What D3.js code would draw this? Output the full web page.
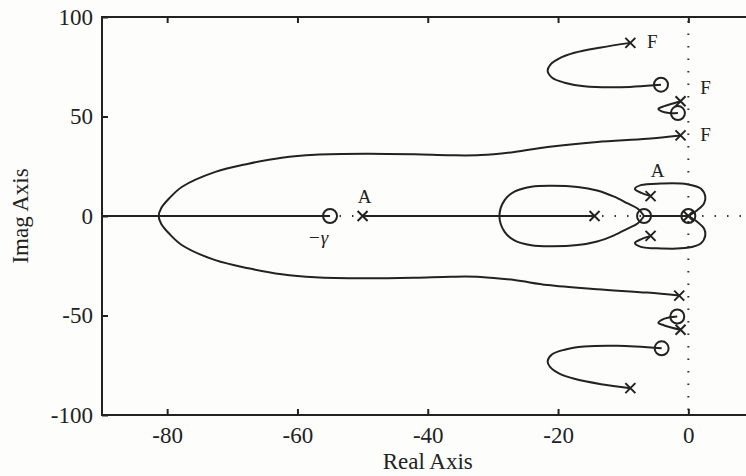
<!DOCTYPE html>
<html lang="en">
<head>
    <title>Root Locus</title>
    <script src="https://d3js.org/d3.v7.min.js"></script>
    <style>
        body {
            margin: 0;
            background: #fdfdfb;
        }

        svg text {
            font-family: "Liberation Serif", "Times New Roman", serif;
            fill: #222;
        }

        .locus {
            fill: none;
            stroke: #222;
            stroke-width: 2;
        }

        .marker {
            fill: none;
            stroke: #222;
            stroke-width: 2;
        }

        .dotted {
            stroke: #333;
            stroke-width: 2;
            stroke-dasharray: 1.5, 11;
        }
    </style>
</head>
<body>
<div id="chart"></div>

<script>
    // axis ticks
    var xTicks = [-80, -60, -40, -20, 0];
    var yTicks = [-100, -50, 0, 50, 100];

    // open-loop poles and zeros [real, imag]
    var poles = [[-50, 0], [-14.4, 0], [-5.8, 10], [-5.8, -10], [0, 0],
                 [-8.9, 87], [-1.2, 57.7], [-1.2, 40.5],
                 [-8.9, -86.5], [-1.2, -57.2], [-1.4, -40]];
    var zeros = [[-55, 0], [-6.8, 0], [0, 0],
                 [-4.2, 66], [-1.6, 51.7],
                 [-4.1, -66.5], [-1.7, -50.5]];

    // branches on the real axis
    var realSegments = [
        [[-90, 0], [-55, 0]],
        [[-50, 0], [-14.4, 0]],
        [[-6.8, 0], [0, 0]]
    ];

    // big loop: pole near +40j, breakaway at -81, pole near -40j
    var outerLoop = [[-1.2, 40.5], [-6.3, 38.8], [-14, 37.2], [-21.6, 34.7], [-26.7, 32.2],
        [-31.9, 30.6], [-36.4, 30.5], [-42, 31], [-49.6, 31.3], [-57.3, 30.8], [-62.4, 29.3],
        [-67.5, 26.3], [-72.6, 22.2], [-77.7, 14.7], [-79.7, 8.8], [-80.9, 4], [-81.3, 0],
        [-80.9, -4], [-79.7, -8.8], [-77.7, -14.7], [-72.6, -22.2], [-67.5, -26.3], [-62.4, -29.3],
        [-57.3, -30.8], [-49.6, -31.3], [-42, -31], [-36.4, -30.5], [-31.9, -30.6],
        [-26.7, -32.2], [-21.6, -34.7], [-14, -36.8], [-6.3, -38.5], [-1.4, -40]];

    // inner loop: breakaway at -29 back into the zero at -6.8
    var innerLoop = [[-6.8, 0], [-7.8, 3.8], [-9.3, 6.3], [-11.4, 9.7], [-14, 12.8],
        [-17, 14.6], [-21, 15.2], [-24.1, 14.7], [-26.7, 12.2], [-28.2, 8], [-29, 0],
        [-28.2, -8], [-26.7, -12.2], [-24.1, -14.7], [-21, -15.2], [-17, -14.6],
        [-14, -12.8], [-11.4, -9.7], [-9.3, -6.3], [-7.8, -3.8], [-6.8, 0]];

    // lobes from the poles at -5.8 +/- 10j into the origin
    var lobeUpper = [[-5.8, 10], [-7.2, 11.6], [-8.2, 13.6], [-7.3, 15.5], [-4.2, 16.3],
        [-0.2, 16], [1.9, 13.8], [2.6, 9.7], [2.4, 6.3], [1.4, 3], [0, 0]];
    var lobeLower = [[-5.8, -10], [-7.2, -11.6], [-8.2, -13.6], [-7.3, -15.5], [-4.2, -16.3],
        [-0.2, -16], [1.9, -13.8], [2.6, -9.7], [2.4, -6.3], [1.4, -3], [0, 0]];

    // flexible mode loops
    var topLoop = [[-8.9, 87], [-13.4, 84.7], [-17.5, 82], [-19.8, 79.2], [-21.2, 76],
        [-21.6, 73], [-20.9, 69.5], [-19, 67], [-16, 65.2], [-10.9, 64.7], [-4.2, 66]];
    var bottomLoop = [[-8.9, -86.5], [-13.4, -84.5], [-17.5, -81.8], [-19.8, -79.2],
        [-21.2, -76], [-21.6, -73], [-20.9, -69.5], [-19, -67.2], [-16, -65.6],
        [-10.9, -65.2], [-4.1, -66.5]];
    var smallLoopUpper = [[-1.2, 57.7], [-2.5, 56.4], [-3.7, 55.2], [-4.6, 53.8],
        [-4.1, 52.6], [-3, 51.8], [-1.6, 51.7]];
    var smallLoopLower = [[-1.2, -57.2], [-2.5, -56.2], [-3.7, -55], [-4.6, -53.7],
        [-4.1, -52.2], [-3, -51], [-1.7, -50.5]];

    var w = 746;
    var h = 476;
    var plotLeft = 102, plotTop = 17, plotRight = 753.5, plotBottom = 415;

    var svg = d3.select("#chart")
        .append("svg")
        .attr("width", w)
        .attr("height", h);

    var xScale = d3.scaleLinear().domain([-90, 10]).range([plotLeft, plotRight]);
    var yScale = d3.scaleLinear().domain([-100, 100]).range([plotBottom, plotTop]);

    var plot = svg.append("g");

    // dotted real and imaginary axes
    plot.append("line")
        .attr("class", "dotted")
        .attr("x1", xScale(0)).attr("x2", xScale(0))
        .attr("y1", plotTop + 4).attr("y2", plotBottom);
    plot.append("line")
        .attr("class", "dotted")
        .attr("x1", plotLeft).attr("x2", plotRight)
        .attr("y1", yScale(0)).attr("y2", yScale(0));

    var straight = d3.line()
        .x(d => xScale(d[0]))
        .y(d => yScale(d[1]));

    var smooth = d3.line()
        .x(d => xScale(d[0]))
        .y(d => yScale(d[1]))
        .curve(d3.curveCatmullRom.alpha(0.5));

    realSegments.forEach(seg => {
        plot.append("path").attr("class", "locus").attr("d", straight(seg));
    });

    [outerLoop, innerLoop, lobeUpper, lobeLower, topLoop, bottomLoop,
        smallLoopUpper, smallLoopLower].forEach(b => {
        plot.append("path").attr("class", "locus").attr("d", smooth(b));
    });

    // markers
    var s = 5;
    plot.selectAll("path.pole")
        .data(poles)
        .enter()
        .append("path")
        .attr("class", "marker pole")
        .attr("d", d => {
            var x = xScale(d[0]), y = yScale(d[1]);
            return `M${x - s},${y - s}L${x + s},${y + s}M${x - s},${y + s}L${x + s},${y - s}`;
        });

    plot.selectAll("circle.zero")
        .data(zeros)
        .enter()
        .append("circle")
        .attr("class", "marker zero")
        .attr("cx", d => xScale(d[0]))
        .attr("cy", d => yScale(d[1]))
        .attr("r", 7);

    // annotations next to poles / zeros
    function tag(pt, txt, dx, dy, italic) {
        var t = plot.append("text")
            .attr("x", xScale(pt[0]) + dx)
            .attr("y", yScale(pt[1]) + dy)
            .attr("text-anchor", "middle")
            .style("font-size", "19px")
            .text(txt);
        if (italic) t.style("font-style", "italic");
    }
    tag(poles[0], "A", 2, -13);
    tag(poles[2], "A", 7, -19);
    tag(poles[5], "F", 22, 5);
    tag(poles[6], "F", 25, -7);
    tag(poles[7], "F", 25, 6);
    tag(zeros[0], "\u2212\u03b3", -12, 28, true);

    // axes with inward ticks
    var fmt = d => String(d);

    svg.append("g")
        .attr("transform", `translate(0, ${plotBottom})`)
        .call(d3.axisBottom(xScale).tickValues(xTicks).tickFormat(fmt)
            .tickSizeInner(-6).tickSizeOuter(0).tickPadding(12));
    svg.append("g")
        .attr("transform", `translate(0, ${plotTop})`)
        .call(d3.axisTop(xScale).tickValues(xTicks).tickFormat("")
            .tickSizeInner(-6).tickSizeOuter(0));
    svg.append("g")
        .attr("transform", `translate(${plotLeft}, 0)`)
        .call(d3.axisLeft(yScale).tickValues(yTicks).tickFormat(fmt)
            .tickSizeInner(-6).tickSizeOuter(0).tickPadding(9));

    svg.selectAll(".domain").remove();
    svg.selectAll(".tick line").attr("stroke", "#222").attr("stroke-width", 2);
    svg.selectAll(".tick text")
        .style("font-family", "'Liberation Serif', serif")
        .style("font-size", "23px")
        .attr("fill", "#222");

    svg.append("rect")
        .attr("x", plotLeft).attr("y", plotTop)
        .attr("width", plotRight - plotLeft).attr("height", plotBottom - plotTop)
        .attr("fill", "none")
        .attr("stroke", "#222")
        .attr("stroke-width", 2);

    svg.append("text")
        .attr("x", (plotLeft + plotRight) / 2)
        .attr("y", 469)
        .attr("text-anchor", "middle")
        .style("font-size", "23px")
        .text("Real Axis");

    svg.append("text")
        .attr("transform", `translate(28, ${(plotTop + plotBottom) / 2}) rotate(-90)`)
        .attr("text-anchor", "middle")
        .style("font-size", "23px")
        .text("Imag Axis");
</script>
</body>
</html>
